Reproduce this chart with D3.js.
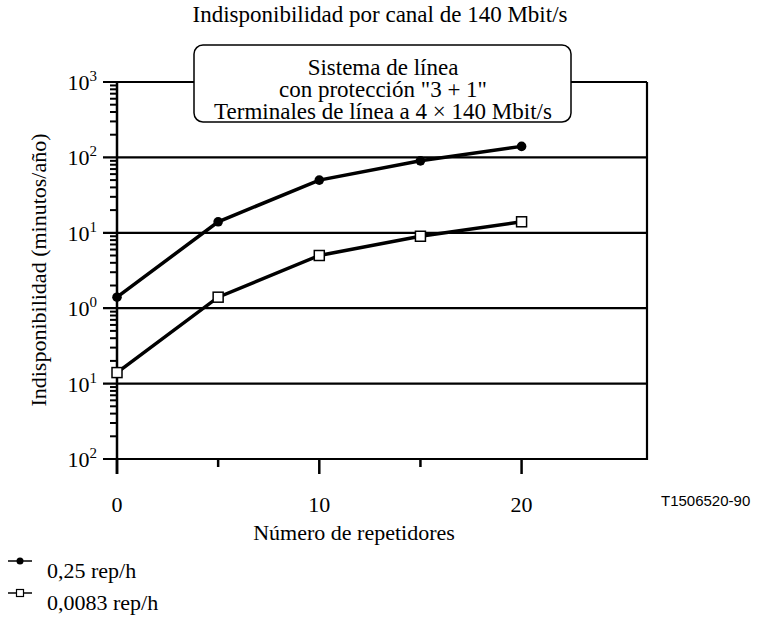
<!DOCTYPE html>
<html>
<head>
<meta charset="utf-8">
<script src="https://cdn.jsdelivr.net/npm/d3@7"></script>
<style>
  body { margin: 0; background: #fff; }
  text { font-family: "Liberation Serif", "Times New Roman", serif; fill: #000; }
  .code { font-family: "Liberation Sans", Arial, sans-serif; }
</style>
</head>
<body>
<div id="chart"></div>
<script>
// data
var repeaters = [0, 5, 10, 15, 20];
var highRate = [1.4, 14, 50, 90, 140];     // 0,25 rep/h
var lowRate = [0.14, 1.4, 5, 9, 14];       // 0,0083 rep/h
var xTicks = [0, 10, 20];
var xMinorTicks = [5, 15];
var yTicks = [1000, 100, 10, 1, 0.1, 0.01];
var yTickSup = ["3", "2", "1", "0", "1", "2"];
var boxLines = ["Sistema de línea", "con protección \"3 + 1\"", "Terminales de línea a 4 \u00d7 140 Mbit/s"];
var legendLabels = ["0,25 rep/h", "0,0083 rep/h"];

(function() {
    var width = 757, height = 618;
    var fs = 22, fsBig = 23;

    var svg = d3.select("#chart")
    .append("svg")
    .attr("width", width)
    .attr("height", height);

    var x = d3.scaleLinear()
    .domain([0, 26.2])
    .range([117, 647]);

    var y = d3.scaleLog()
    .domain([0.01, 1000])
    .range([459, 82]);

    //minor ticks of the log axis (2..9 in every decade)

    var minor = [];
    yTicks.slice(0, -1).forEach(function(t) {
        for (var k = 2; k <= 9; k++) minor.push(t / 10 * k);
    });

    svg.selectAll(".minor")
    .data(minor)
    .enter().append("line")
    .attr("class", "minor")
    .attr("x1", x(0) - 7)
    .attr("x2", x(0))
    .attr("y1", function(d) { return y(d); })
    .attr("y2", function(d) { return y(d); })
    .attr("stroke", "#000")
    .attr("stroke-width", 2);

    //grid lines at every decade, they stick out left of the axis

    svg.selectAll(".grid")
    .data(yTicks)
    .enter().append("line")
    .attr("class", "grid")
    .attr("x1", x(0) - 14)
    .attr("x2", x.range()[1])
    .attr("y1", function(d) { return y(d); })
    .attr("y2", function(d) { return y(d); })
    .attr("stroke", "#000")
    .attr("stroke-width", 2.2);

    // right border
    svg.append("line")
    .attr("x1", x.range()[1]).attr("x2", x.range()[1])
    .attr("y1", y(1000)).attr("y2", y(0.01) + 1)
    .attr("stroke", "#000")
    .attr("stroke-width", 2.2);

    // y axis line, runs down to the 0 tick
    svg.append("line")
    .attr("x1", x(0)).attr("x2", x(0))
    .attr("y1", y(1000)).attr("y2", y(0.01) + 15)
    .attr("stroke", "#000")
    .attr("stroke-width", 2.5);

    //x ticks

    svg.selectAll(".xtick")
    .data(xTicks.concat(xMinorTicks))
    .enter().append("line")
    .attr("class", "xtick")
    .attr("x1", function(d) { return x(d); })
    .attr("x2", function(d) { return x(d); })
    .attr("y1", y(0.01))
    .attr("y2", function(d) { return xTicks.indexOf(d) >= 0 ? y(0.01) + 15 : y(0.01) + 8; })
    .attr("stroke", "#000")
    .attr("stroke-width", 2.5);

    svg.selectAll(".xlabel")
    .data(xTicks)
    .enter().append("text")
    .attr("class", "xlabel")
    .attr("x", function(d) { return x(d); })
    .attr("y", 512)
    .attr("text-anchor", "middle")
    .style("font-size", fs + "px")
    .text(function(d) { return d; });

    //y tick labels 10 with a superscript

    var yl = svg.selectAll(".ylabel")
    .data(yTicks)
    .enter().append("text")
    .attr("class", "ylabel")
    .attr("x", 97)
    .attr("y", function(d) { return y(d) + 8; })
    .attr("text-anchor", "end")
    .style("font-size", fs + "px");

    yl.append("tspan").text("10");
    yl.append("tspan")
    .attr("dy", -9)
    .style("font-size", (fs * 0.68) + "px")
    .text(function(d, i) { return yTickSup[i]; });

    //axis titles

    svg.append("text")
    .attr("x", 354)
    .attr("y", 540)
    .attr("text-anchor", "middle")
    .style("font-size", fs + "px")
    .text("Número de repetidores");

    svg.append("text")
    .attr("transform", "translate(46," + 270 + ") rotate(-90)")
    .attr("text-anchor", "middle")
    .style("font-size", fs + "px")
    .text("Indisponibilidad (minutos/año)");

    svg.append("text")
    .attr("x", 380)
    .attr("y", 22)
    .attr("text-anchor", "middle")
    .style("font-size", fsBig + "px")
    .text("Indisponibilidad por canal de 140 Mbit/s");

    svg.append("text")
    .attr("class", "code")
    .attr("x", 661)
    .attr("y", 506)
    .style("font-size", "15px")
    .text("T1506520-90");

    //the two series

    var line = d3.line()
    .x(function(d) { return x(d[0]); })
    .y(function(d) { return y(d[1]); });

    var series = [
        { vals: highRate, shape: "circle" },
        { vals: lowRate, shape: "square" }
    ];

    series.forEach(function(s) {
        var pts = repeaters.map(function(r, i) { return [r, s.vals[i]]; });

        svg.append("path")
        .datum(pts)
        .attr("d", line)
        .attr("fill", "none")
        .attr("stroke", "#000")
        .attr("stroke-width", 3.5);

        if (s.shape == "circle") {
            svg.selectAll(".dot")
            .data(pts)
            .enter().append("circle")
            .attr("class", "dot")
            .attr("cx", function(d) { return x(d[0]); })
            .attr("cy", function(d) { return y(d[1]); })
            .attr("r", 4.8)
            .attr("fill", "#000");
        } else {
            svg.selectAll(".sq")
            .data(pts)
            .enter().append("rect")
            .attr("class", "sq")
            .attr("x", function(d) { return x(d[0]) - 5; })
            .attr("y", function(d) { return y(d[1]) - 5; })
            .attr("width", 10)
            .attr("height", 10)
            .attr("fill", "#fff")
            .attr("stroke", "#000")
            .attr("stroke-width", 1.5);
        }
    });

    //rounded box with the system description

    svg.append("rect")
    .attr("x", 194)
    .attr("y", 45)
    .attr("width", 377)
    .attr("height", 77)
    .attr("rx", 9)
    .attr("fill", "#fff")
    .attr("stroke", "#000")
    .attr("stroke-width", 1.5);

    svg.selectAll(".boxline")
    .data(boxLines)
    .enter().append("text")
    .attr("class", "boxline")
    .attr("x", 383)
    .attr("y", function(d, i) { return 75 + i * 22; })
    .attr("text-anchor", "middle")
    .style("font-size", fsBig + "px")
    .text(function(d) { return d; });

    //legend under the chart

    var leg = svg.selectAll(".legend")
    .data(legendLabels)
    .enter().append("g")
    .attr("class", "legend")
    .attr("transform", function(d, i) { return "translate(0," + (561 + i * 32) + ")"; });

    leg.append("line")
    .attr("x1", 8).attr("x2", 32)
    .attr("stroke", "#000")
    .attr("stroke-width", 1.5);

    leg.filter(function(d, i) { return i == 0; })
    .append("circle")
    .attr("cx", 20)
    .attr("r", 3.5)
    .attr("fill", "#000");

    leg.filter(function(d, i) { return i == 1; })
    .append("rect")
    .attr("x", 16.5).attr("y", -3.5)
    .attr("width", 7).attr("height", 7)
    .attr("fill", "#fff")
    .attr("stroke", "#000")
    .attr("stroke-width", 1.2);

    leg.append("text")
    .attr("x", 47)
    .attr("y", 17)
    .style("font-size", fs + "px")
    .text(function(d) { return d; });

})();
</script>
</body>
</html>
